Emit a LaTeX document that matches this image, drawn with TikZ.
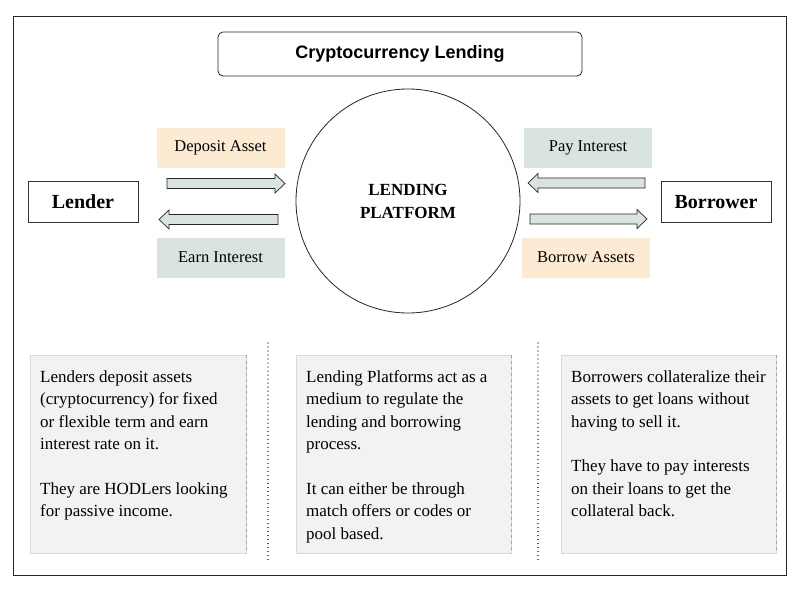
\documentclass[tikz,border=0pt]{standalone}
\usepackage{fontspec}
\setmainfont{Liberation Serif}
\newfontfamily\titlefont{Liberation Sans}
\begin{document}
\begin{tikzpicture}[x=1pt,y=-1pt,
  labelbox/.style={minimum width=128pt,minimum height=40pt,inner sep=0pt,font=\fontsize{16.5}{19}\selectfont},
  orangefill/.style={fill=orangeC},
  bluefill/.style={fill=blueC},
  sidebox/.style={draw=black!80,line width=0.8pt,minimum width=110pt,minimum height=41pt,inner sep=0pt,font=\bfseries\fontsize{20}{22}\selectfont},
  infobox/.style={fill=grayC,draw=black!15,line width=0.5pt},
  infotext/.style={anchor=north west,align=left,inner sep=0pt,font=\fontsize{17}{22.5}\selectfont},
  arrowshape/.style={fill=blueC,draw=black!85,line width=0.7pt},
  sep/.style={line width=1.1pt,dash pattern=on 0.01pt off 4pt,line cap=round,draw=black!80}
]
\definecolor{orangeC}{HTML}{FCEBD2}
\definecolor{blueC}{HTML}{D9E3E0}
\definecolor{grayC}{HTML}{F2F2F2}
\useasboundingbox (0,0) rectangle (800,600);
\fill[white] (0,0) rectangle (800,600);
% outer frame
\draw[line width=0.8pt,black!85] (13,16) rectangle (786,575);
% title
\node[draw=black!85,line width=0.8pt,rounded corners=5pt,minimum width=364pt,minimum height=44pt,font=\titlefont\bfseries\fontsize{18}{20}\selectfont] (title) at (400,54) {Cryptocurrency Lending};
% platform circle
\node[draw=black!85,line width=0.8pt,circle,minimum size=224pt,inner sep=0pt,align=center,font=\bfseries\fontsize{17}{23}\selectfont] (platform) at (408,201) {LENDING\\PLATFORM};
% side boxes
\node[sidebox] (lender) at (83,202) {Lender};
\node[sidebox] (borrower) at (716,202) {Borrower};
% label boxes
\node[labelbox,orangefill] (deposit) at (220.5,147.5) {Deposit Asset};
\node[labelbox,bluefill] (earn) at (220.5,257.5) {Earn Interest};
\node[labelbox,bluefill] (pay) at (588,147.5) {Pay Interest};
\node[labelbox,orangefill] (borrow) at (586,257.5) {Borrow Assets};
% arrows
\newcommand\rarrow[3]{\draw[arrowshape] (#1,#3-5) -- (#2-10,#3-5) -- (#2-10,#3-9.5) -- (#2,#3) -- (#2-10,#3+9.5) -- (#2-10,#3+5) -- (#1,#3+5) -- cycle;}
\newcommand\larrow[3]{\draw[arrowshape] (#2,#3-5) -- (#1+10,#3-5) -- (#1+10,#3-9.5) -- (#1,#3) -- (#1+10,#3+9.5) -- (#1+10,#3+5) -- (#2,#3+5) -- cycle;}
\rarrow{167}{285}{183.5}
\larrow{159}{278}{219.5}
\larrow{528}{645}{183}
\rarrow{530}{647}{219}
% info boxes
\draw[infobox] (30,355) rectangle (246,553);
\draw[infobox] (296,355) rectangle (511,553);
\draw[infobox] (561,355) rectangle (776,553);
\draw[black!35,dashed,line width=0.5pt] (246,355) -- (246,553);
\draw[black!35,dashed,line width=0.5pt] (511,355) -- (511,553);
\draw[black!35,dashed,line width=0.5pt] (776,355) -- (776,553);
\node[infotext] (t1) at (40,370) {Lenders deposit assets\\(cryptocurrency) for fixed\\or flexible term and earn\\interest rate on it.\\[22pt]They are HODLers looking\\for passive income.};
\node[infotext] (t2) at (306,370) {Lending Platforms act as a\\medium to regulate the\\lending and borrowing\\process.\\[22pt]It can either be through\\match offers or codes or\\pool based.};
\node[infotext] (t3) at (571,370) {Borrowers collateralize their\\assets to get loans without\\having to sell it.\\[22pt]They have to pay interests\\on their loans to get the\\collateral back.};
% separators
\draw[sep] (268,343) -- (268,561);
\draw[sep] (538,343) -- (538,561);
\end{tikzpicture}
\end{document}
